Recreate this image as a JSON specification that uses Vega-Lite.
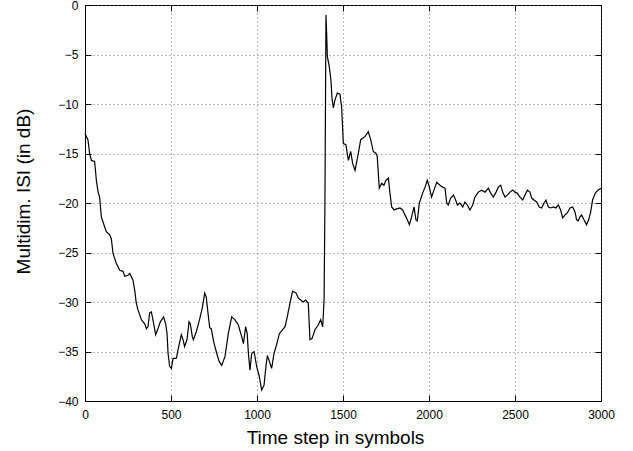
{
  "$schema": "https://vega.github.io/schema/vega-lite/v6.json",
  "width": 516,
  "height": 396,
  "autosize": {"type": "none"},
  "padding": {"left": 85, "top": 5, "right": 32, "bottom": 50},
  "background": "white",
  "config": {
    "view": {"stroke": "black", "strokeWidth": 1},
    "font": "Liberation Sans",
    "axis": {
      "labelFont": "Liberation Sans",
      "titleFont": "Liberation Sans",
      "labelColor": "black",
      "titleColor": "black",
      "domainColor": "black",
      "tickColor": "black",
      "labelFontSize": 12,
      "titleFontSize": 19,
      "titleFontWeight": "normal",
      "tickSize": -6,
      "labelFlush": false,
      "labelOverlap": false,
      "gridColor": "#555555",
      "gridDash": [1, 3],
      "gridWidth": 1,
      "gridOpacity": 0.8
    }
  },
  "data": {
    "values": [
      {"t": 0, "isi": -13.0}, {"t": 17, "isi": -13.6}, {"t": 27, "isi": -15.0}, {"t": 37, "isi": -15.7},
      {"t": 56, "isi": -15.8}, {"t": 66, "isi": -17.7}, {"t": 76, "isi": -18.9}, {"t": 85, "isi": -19.4},
      {"t": 95, "isi": -21.4}, {"t": 114, "isi": -22.4}, {"t": 124, "isi": -22.9}, {"t": 143, "isi": -23.2},
      {"t": 153, "isi": -23.6}, {"t": 163, "isi": -25.1}, {"t": 182, "isi": -26.1}, {"t": 202, "isi": -26.8},
      {"t": 221, "isi": -26.9}, {"t": 231, "isi": -27.4}, {"t": 250, "isi": -27.3}, {"t": 260, "isi": -27.1},
      {"t": 279, "isi": -27.8}, {"t": 289, "isi": -28.8}, {"t": 298, "isi": -30.1}, {"t": 308, "isi": -30.8},
      {"t": 328, "isi": -31.8}, {"t": 347, "isi": -32.2}, {"t": 357, "isi": -32.7}, {"t": 366, "isi": -32.5},
      {"t": 376, "isi": -31.1}, {"t": 386, "isi": -31.0}, {"t": 395, "isi": -31.8}, {"t": 411, "isi": -33.3},
      {"t": 424, "isi": -32.7}, {"t": 438, "isi": -32.0}, {"t": 457, "isi": -31.5}, {"t": 469, "isi": -32.2},
      {"t": 477, "isi": -33.2}, {"t": 483, "isi": -35.2}, {"t": 492, "isi": -36.5}, {"t": 502, "isi": -36.7},
      {"t": 512, "isi": -35.7}, {"t": 531, "isi": -35.7}, {"t": 541, "isi": -34.8}, {"t": 560, "isi": -33.3},
      {"t": 570, "isi": -33.8}, {"t": 579, "isi": -34.5}, {"t": 593, "isi": -33.8}, {"t": 605, "isi": -32.0},
      {"t": 612, "isi": -32.2}, {"t": 624, "isi": -33.5}, {"t": 630, "isi": -33.8}, {"t": 647, "isi": -33.0},
      {"t": 667, "isi": -31.7}, {"t": 682, "isi": -30.6}, {"t": 696, "isi": -29.1}, {"t": 705, "isi": -29.5},
      {"t": 715, "isi": -31.1}, {"t": 725, "isi": -32.6}, {"t": 734, "isi": -32.7}, {"t": 748, "isi": -34.0},
      {"t": 766, "isi": -35.2}, {"t": 780, "isi": -36.0}, {"t": 795, "isi": -36.4}, {"t": 814, "isi": -35.5},
      {"t": 833, "isi": -33.2}, {"t": 853, "isi": -31.5}, {"t": 872, "isi": -31.8}, {"t": 891, "isi": -32.3},
      {"t": 911, "isi": -33.5}, {"t": 921, "isi": -34.2}, {"t": 934, "isi": -32.5}, {"t": 943, "isi": -33.2},
      {"t": 950, "isi": -35.2}, {"t": 959, "isi": -36.9}, {"t": 969, "isi": -35.2}, {"t": 983, "isi": -35.0},
      {"t": 998, "isi": -36.5}, {"t": 1013, "isi": -37.5}, {"t": 1027, "isi": -38.9}, {"t": 1041, "isi": -38.4},
      {"t": 1052, "isi": -36.5}, {"t": 1060, "isi": -35.4}, {"t": 1070, "isi": -35.9}, {"t": 1085, "isi": -36.7},
      {"t": 1099, "isi": -35.2}, {"t": 1114, "isi": -34.3}, {"t": 1130, "isi": -33.2}, {"t": 1149, "isi": -32.8},
      {"t": 1163, "isi": -32.5}, {"t": 1176, "isi": -31.5}, {"t": 1192, "isi": -30.1}, {"t": 1207, "isi": -28.9},
      {"t": 1227, "isi": -29.1}, {"t": 1240, "isi": -29.6}, {"t": 1254, "isi": -29.8}, {"t": 1269, "isi": -30.0},
      {"t": 1283, "isi": -29.8}, {"t": 1298, "isi": -30.1}, {"t": 1308, "isi": -33.8}, {"t": 1320, "isi": -33.7},
      {"t": 1337, "isi": -32.8}, {"t": 1357, "isi": -32.3}, {"t": 1370, "isi": -31.8}, {"t": 1382, "isi": -32.5},
      {"t": 1390, "isi": -29.8}, {"t": 1395, "isi": -19.9}, {"t": 1401, "isi": -1.0}, {"t": 1405, "isi": -2.9},
      {"t": 1409, "isi": -5.2}, {"t": 1420, "isi": -6.2}, {"t": 1430, "isi": -7.6}, {"t": 1436, "isi": -9.4},
      {"t": 1444, "isi": -10.4}, {"t": 1453, "isi": -9.6}, {"t": 1467, "isi": -8.9}, {"t": 1482, "isi": -9.0},
      {"t": 1492, "isi": -10.3}, {"t": 1502, "isi": -14.0}, {"t": 1517, "isi": -14.1}, {"t": 1531, "isi": -15.7},
      {"t": 1545, "isi": -14.8}, {"t": 1556, "isi": -16.0}, {"t": 1570, "isi": -16.7}, {"t": 1589, "isi": -15.0},
      {"t": 1603, "isi": -13.6}, {"t": 1628, "isi": -13.3}, {"t": 1647, "isi": -12.8}, {"t": 1661, "isi": -13.6},
      {"t": 1676, "isi": -14.8}, {"t": 1692, "isi": -15.0}, {"t": 1699, "isi": -15.3}, {"t": 1711, "isi": -18.5},
      {"t": 1725, "isi": -18.0}, {"t": 1738, "isi": -18.2}, {"t": 1750, "isi": -17.7}, {"t": 1764, "isi": -17.5},
      {"t": 1773, "isi": -19.0}, {"t": 1783, "isi": -20.4}, {"t": 1797, "isi": -20.7}, {"t": 1812, "isi": -20.6},
      {"t": 1831, "isi": -20.5}, {"t": 1847, "isi": -20.7}, {"t": 1860, "isi": -21.2}, {"t": 1874, "isi": -21.7},
      {"t": 1886, "isi": -22.2}, {"t": 1899, "isi": -21.4}, {"t": 1913, "isi": -20.4}, {"t": 1924, "isi": -21.7},
      {"t": 1932, "isi": -21.8}, {"t": 1944, "isi": -20.0}, {"t": 1963, "isi": -19.0}, {"t": 1977, "isi": -18.4},
      {"t": 1990, "isi": -17.7}, {"t": 2002, "isi": -18.4}, {"t": 2015, "isi": -19.4}, {"t": 2029, "isi": -18.7},
      {"t": 2045, "isi": -17.9}, {"t": 2064, "isi": -18.2}, {"t": 2079, "isi": -18.4}, {"t": 2093, "isi": -18.5},
      {"t": 2103, "isi": -20.0}, {"t": 2112, "isi": -20.2}, {"t": 2126, "isi": -19.5}, {"t": 2142, "isi": -19.2},
      {"t": 2155, "isi": -19.7}, {"t": 2165, "isi": -20.2}, {"t": 2180, "isi": -20.0}, {"t": 2196, "isi": -20.4},
      {"t": 2209, "isi": -19.9}, {"t": 2223, "isi": -20.2}, {"t": 2238, "isi": -20.7}, {"t": 2254, "isi": -20.2},
      {"t": 2267, "isi": -19.4}, {"t": 2287, "isi": -18.9}, {"t": 2306, "isi": -18.7}, {"t": 2326, "isi": -18.9},
      {"t": 2345, "isi": -18.5}, {"t": 2359, "isi": -19.0}, {"t": 2374, "isi": -19.4}, {"t": 2390, "isi": -18.9},
      {"t": 2403, "isi": -18.4}, {"t": 2417, "isi": -18.2}, {"t": 2428, "isi": -18.9}, {"t": 2442, "isi": -19.4},
      {"t": 2455, "isi": -19.2}, {"t": 2471, "isi": -18.9}, {"t": 2486, "isi": -18.7}, {"t": 2500, "isi": -18.9},
      {"t": 2513, "isi": -19.0}, {"t": 2529, "isi": -19.4}, {"t": 2545, "isi": -19.7}, {"t": 2558, "isi": -19.2},
      {"t": 2572, "isi": -18.7}, {"t": 2587, "isi": -18.9}, {"t": 2597, "isi": -19.5}, {"t": 2610, "isi": -19.7},
      {"t": 2626, "isi": -19.9}, {"t": 2641, "isi": -20.4}, {"t": 2655, "isi": -20.5}, {"t": 2669, "isi": -20.0},
      {"t": 2680, "isi": -19.7}, {"t": 2694, "isi": -20.4}, {"t": 2707, "isi": -20.5}, {"t": 2723, "isi": -20.4},
      {"t": 2738, "isi": -20.5}, {"t": 2752, "isi": -20.2}, {"t": 2765, "isi": -20.7}, {"t": 2777, "isi": -21.5},
      {"t": 2791, "isi": -21.2}, {"t": 2804, "isi": -21.0}, {"t": 2820, "isi": -20.5}, {"t": 2835, "isi": -20.4},
      {"t": 2849, "isi": -20.9}, {"t": 2858, "isi": -21.7}, {"t": 2868, "isi": -21.8}, {"t": 2878, "isi": -21.4},
      {"t": 2887, "isi": -21.2}, {"t": 2901, "isi": -21.7}, {"t": 2916, "isi": -22.2}, {"t": 2928, "isi": -21.7},
      {"t": 2939, "isi": -21.0}, {"t": 2951, "isi": -19.7}, {"t": 2967, "isi": -19.0}, {"t": 2982, "isi": -18.7},
      {"t": 3000, "isi": -18.5}
    ]
  },
  "resolve": {"axis": {"x": "independent", "y": "independent"}},
  "layer": [
    {
      "mark": {"type": "line", "strokeOpacity": 0},
      "encoding": {
        "x": {"field": "t", "type": "quantitative", "scale": {"domain": [0, 3000], "nice": false},
          "axis": {"orient": "top", "labels": false, "grid": false, "domain": false, "title": null, "values": [0, 500, 1000, 1500, 2000, 2500, 3000]}},
        "y": {"field": "isi", "type": "quantitative", "scale": {"domain": [-40, 0], "nice": false, "zero": false},
          "axis": {"orient": "right", "labels": false, "grid": false, "domain": false, "title": null, "values": [-40, -35, -30, -25, -20, -15, -10, -5, 0]}}
      }
    },
    {
      "mark": {"type": "line", "color": "black", "strokeWidth": 1.2, "interpolate": "linear"},
      "encoding": {
        "x": {"field": "t", "type": "quantitative", "scale": {"domain": [0, 3000], "nice": false},
          "axis": {"orient": "bottom", "values": [0, 500, 1000, 1500, 2000, 2500, 3000], "format": "d", "grid": true,
            "labelPadding": 14, "title": "Time step in symbols", "titleX": 250, "titleY": 42, "titleBaseline": "alphabetic", "titleAnchor": "middle", "titleAlign": "center"}},
        "y": {"field": "isi", "type": "quantitative", "scale": {"domain": [-40, 0], "nice": false, "zero": false},
          "axis": {"orient": "left", "values": [-40, -35, -30, -25, -20, -15, -10, -5, 0], "format": "d", "grid": true,
            "labelPadding": 13, "title": "Multidim. ISI (in dB)", "titleX": -62, "titleY": 186, "titleAngle": -90, "titleAlign": "center", "titleBaseline": "middle"}}
      }
    }
  ]
}
